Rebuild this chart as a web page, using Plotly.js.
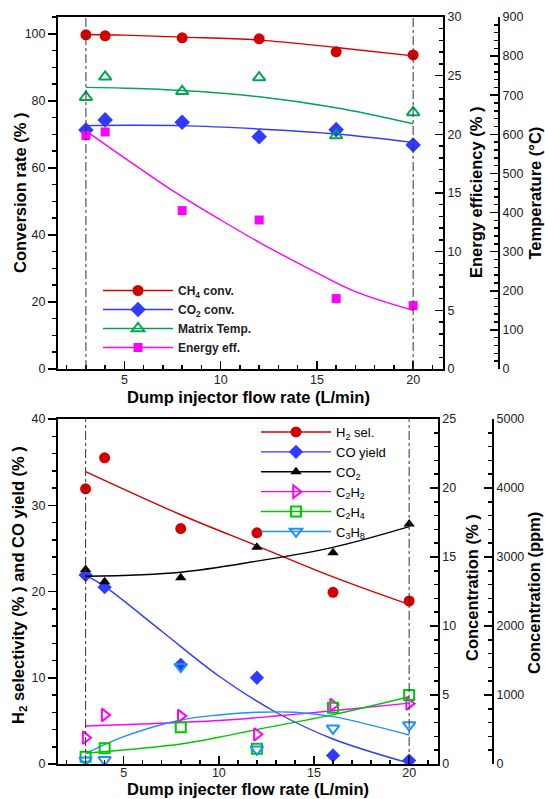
<!DOCTYPE html>
<html>
<head>
<meta charset="utf-8">
<script src="https://cdn.plot.ly/plotly-3.0.1.min.js"></script>
<style>html,body{margin:0;padding:0;background:#fff;}#chart{width:545px;height:799px;}</style>
</head>
<body>
<div id="chart"></div>
<script>
// ---------- DATA ----------
// Top panel
var flowRate = [3, 4, 8, 12, 16, 20];
var ch4Conv = [99.7, 99.4, 98.8, 98.5, 94.6, 93.7];
var co2Conv = [71.3, 74.3, 73.6, 69.3, 71.4, 66.8];
var matrixTemp = [695, 747, 710, 745, 597, 656];
var energyEff = [19.9, 20.2, 13.5, 12.7, 6.0, 5.4];

var fitXTop = [3, 5, 8, 12, 16, 20];
var ch4Fit = [99.8, 99.6, 99.0, 98.1, 95.9, 93.4];
var co2ConvFit = [72.6, 72.7, 72.6, 71.6, 70.1, 67.6];
var tempFit = [720, 718, 712, 696, 668, 627];
var energyFitX = [3, 5, 7.5, 10, 12, 15, 17, 20];
var energyFit = [20.3, 18.0, 15.2, 12.7, 10.8, 8.2, 6.6, 5.0];

// Bottom panel
var h2Sel = [31.9, 35.5, 27.3, 26.8, 19.9, 18.9];
var coYield = [21.9, 20.5, 11.5, 10.0, 1.0, 0.4];
var co2Conc = [14.1, 13.2, 13.5, 15.7, 15.3, 17.4];
var c2h2 = [381, 710, 696, 430, 855, 875];
var c2h4 = [106, 227, 532, 220, 816, 1000];
var c3h8 = [55, 60, 1410, 213, 517, 565];

var h2FitX = [3, 8, 12, 16, 20];
var h2Fit = [33.9, 28.9, 25.3, 21.7, 18.5];
var coFitX = [3, 4, 7, 10, 13, 16, 20];
var coFit = [21.9, 20.6, 15.4, 10.2, 6.0, 2.9, 0.1];
var co2ConcFitX = [3, 8, 12, 16, 20];
var co2ConcFit = [13.6, 13.9, 14.7, 15.7, 17.2];
var c2h2FitX = [3, 6, 10, 13, 16, 20];
var c2h2Fit = [551, 580, 630, 695, 772, 882];
var c2h4FitX = [3, 8, 10, 12, 16, 20];
var c2h4Fit = [155, 290, 387, 500, 715, 975];
var c3h8FitX = [3, 5, 8, 10, 12, 14, 16, 20];
var c3h8Fit = [150, 396, 638, 710, 750, 750, 686, 420];

var refLinesX = [3, 20];

// ---------- STYLE ----------
var FONT = 'Arial, "Liberation Sans", sans-serif';
var RED = '#D40000', BLUE = '#2F3BFF', GREEN = '#00A651', MAG = '#FF00FF';
var GREEN2 = '#00C800', LBLUE = '#1E90FF';

function pxX(p) { return (p - 58) / 477; }
function pxY(p) { return (764 - p) / 747; }

var traces = [];
function pts(x, y, xa, ya, sym, size, color, open) {
  traces.push({x: x, y: y, xaxis: xa, yaxis: ya, mode: 'markers', showlegend: false, hoverinfo: 'skip',
    marker: {symbol: sym, size: size, color: color, line: {width: open ? 2 : 0, color: color}}});
}
function fit(x, y, xa, ya, color) {
  traces.push({x: x, y: y, xaxis: xa, yaxis: ya, mode: 'lines', showlegend: false, hoverinfo: 'skip',
    line: {color: color, width: 1.4, shape: 'spline', smoothing: 1}});
}
function leg(name, xa, ya, sym, size, color, open, legendId) {
  traces.push({x: [null], y: [null], xaxis: xa, yaxis: ya, mode: 'lines+markers', name: name, legend: legendId,
    line: {color: color, width: 1.4},
    marker: {symbol: sym, size: size, color: color, line: {width: open ? 2 : 0, color: color}}});
}

// top
fit(fitXTop, ch4Fit, 'x', 'y', RED);
fit(fitXTop, co2ConvFit, 'x', 'y', BLUE);
pts(flowRate, ch4Conv, 'x', 'y', 'circle', 11, RED, false);
pts(flowRate, co2Conv, 'x', 'y', 'diamond', 12, BLUE, false);
fit(energyFitX, energyFit, 'x', 'y2', MAG);
pts(flowRate, energyEff, 'x', 'y2', 'square', 9, MAG, false);
fit(fitXTop, tempFit, 'x', 'y3', GREEN);
pts(flowRate, matrixTemp, 'x', 'y3', 'triangle-up-open', 11, GREEN, true);
leg('<b>CH<sub>4</sub> conv.</b>', 'x', 'y', 'circle', 11, RED, false, 'legend');
leg('<b>CO<sub>2</sub> conv.</b>', 'x', 'y', 'diamond', 12, BLUE, false, 'legend');
leg('<b>Matrix Temp.</b>', 'x', 'y', 'triangle-up-open', 11, GREEN, true, 'legend');
leg('<b>Energy eff.</b>', 'x', 'y', 'square', 9, MAG, false, 'legend');

// bottom
fit(h2FitX, h2Fit, 'x2', 'y4', RED);
fit(coFitX, coFit, 'x2', 'y4', BLUE);
pts(flowRate, h2Sel, 'x2', 'y4', 'circle', 11, RED, false);
pts(flowRate, coYield, 'x2', 'y4', 'diamond', 11, BLUE, false);
fit(co2ConcFitX, co2ConcFit, 'x2', 'y5', '#000000');
pts(flowRate, co2Conc, 'x2', 'y5', 'triangle-up', 10, '#000000', false);
fit(c2h2FitX, c2h2Fit, 'x2', 'y6', MAG);
fit(c2h4FitX, c2h4Fit, 'x2', 'y6', GREEN2);
fit(c3h8FitX, c3h8Fit, 'x2', 'y6', LBLUE);
pts(flowRate, c2h2, 'x2', 'y6', 'triangle-right-open', 11, MAG, true);
pts(flowRate, c2h4, 'x2', 'y6', 'square-open', 10, GREEN2, true);
pts(flowRate, c3h8, 'x2', 'y6', 'triangle-down-open', 11, LBLUE, true);
leg('H<sub>2</sub> sel.', 'x2', 'y4', 'circle', 11, RED, false, 'legend2');
leg('CO yield', 'x2', 'y4', 'diamond', 11, BLUE, false, 'legend2');
leg('CO<sub>2</sub>', 'x2', 'y4', 'triangle-up', 10, '#000000', false, 'legend2');
leg('C<sub>2</sub>H<sub>2</sub>', 'x2', 'y4', 'triangle-right-open', 11, MAG, true, 'legend2');
leg('C<sub>2</sub>H<sub>4</sub>', 'x2', 'y4', 'square-open', 10, GREEN2, true, 'legend2');
leg('C<sub>3</sub>H<sub>8</sub>', 'x2', 'y4', 'triangle-down-open', 11, LBLUE, true, 'legend2');

function axBase(extra) {
  var a = {showgrid: false, zeroline: false, showline: true, linecolor: '#000', linewidth: 2,
    tickcolor: '#000', tickwidth: 1.5, tickfont: {family: FONT, size: 12.5, color: '#222'}, fixedrange: true};
  for (var k in extra) a[k] = extra[k];
  return a;
}

var shapes = [];
refLinesX.forEach(function (v) {
  shapes.push({type: 'line', xref: 'x', yref: 'y domain', x0: v, x1: v, y0: 0, y1: 1, line: {color: '#333', width: 1, dash: 'dashdot'}});
  shapes.push({type: 'line', xref: 'x2', yref: 'y4 domain', x0: v, x1: v, y0: 0, y1: 1, line: {color: '#333', width: 1, dash: 'dashdot'}});
});

var tfont = {family: FONT, size: 16.5, color: '#000'};
function title(text, x, y, rot) {
  return {text: '<b>' + text + '</b>', xref: 'paper', yref: 'paper', x: pxX(x), y: pxY(y), showarrow: false,
    xanchor: 'center', yanchor: 'middle', textangle: rot ? -90 : 0, font: tfont};
}

var layout = {
  width: 545, height: 799,
  margin: {l: 58, r: 10, t: 17, b: 35},
  paper_bgcolor: '#fff', plot_bgcolor: 'rgba(0,0,0,0)',
  font: {family: FONT},
  showlegend: true,
  xaxis: axBase({domain: [0, 385 / 477], anchor: 'y', range: [1.55, 21.55], tick0: 0, dtick: 5, ticks: 'inside', ticklen: 8, mirror: true,
    ticklabelstandoff: -2, minor: {dtick: 1, ticks: 'inside', ticklen: 4, tickcolor: '#000'}}),
  yaxis: axBase({domain: [pxY(369), 1], anchor: 'x', range: [0, 105], tick0: 0, dtick: 20, ticks: 'outside', ticklen: 8,
    minor: {dtick: 5, ticks: 'outside', ticklen: 4, tickcolor: '#000'}}),
  yaxis2: axBase({overlaying: 'y', anchor: 'x', side: 'right', range: [0, 30], tick0: 0, dtick: 5, ticks: 'inside', ticklen: 8,
    minor: {dtick: 1, ticks: 'inside', ticklen: 4, tickcolor: '#000'}}),
  yaxis3: axBase({overlaying: 'y', anchor: 'free', position: pxX(499), side: 'right', range: [0, 900], tick0: 0, dtick: 100, ticks: 'inside', ticklen: 8,
    minor: {dtick: 20, ticks: 'inside', ticklen: 4, tickcolor: '#000'}}),
  xaxis2: axBase({domain: [0, 379.7 / 477], anchor: 'y4', range: [1.55, 21.5], tick0: 0, dtick: 5, ticks: 'inside', ticklen: 8, mirror: true,
    ticklabelstandoff: -4, minor: {dtick: 1, ticks: 'inside', ticklen: 4, tickcolor: '#000'}}),
  yaxis4: axBase({domain: [0, pxY(419)], anchor: 'x2', range: [0, 40], tick0: 0, dtick: 10, ticks: 'outside', ticklen: 8,
    minor: {dtick: 2, ticks: 'outside', ticklen: 4, tickcolor: '#000'}}),
  yaxis5: axBase({overlaying: 'y4', anchor: 'x2', side: 'right', range: [0, 25], tick0: 0, dtick: 5, ticks: 'inside', ticklen: 8,
    minor: {dtick: 1, ticks: 'inside', ticklen: 4, tickcolor: '#000'}}),
  yaxis6: axBase({overlaying: 'y4', anchor: 'free', position: pxX(493), side: 'right', range: [0, 5000], tick0: 0, dtick: 1000, ticks: 'inside', ticklen: 8,
    minor: {dtick: 200, ticks: 'inside', ticklen: 4, tickcolor: '#000'}}),
  legend: {x: pxX(98), y: pxY(276), xanchor: 'left', yanchor: 'top', xref: 'paper', yref: 'paper',
    bgcolor: 'rgba(0,0,0,0)', borderwidth: 0, font: {family: FONT, size: 12, color: '#222'}, itemwidth: 70, tracegroupgap: 0},
  legend2: {x: pxX(256), y: pxY(417), xanchor: 'left', yanchor: 'top', xref: 'paper', yref: 'paper',
    bgcolor: 'rgba(0,0,0,0)', borderwidth: 0, font: {family: FONT, size: 13, color: '#000'}, itemwidth: 70, tracegroupgap: 0},
  shapes: shapes,
  annotations: [
    title('Dump injector flow rate (L/min)', 248, 397, false),
    title('Dump injecter flow rate (L/min)', 248, 789.3, false),
    title('Conversion rate (% )', 20, 193, true),
    title('Energy efficiency (% )', 476, 193, true),
    title('Temperature (°C)', 534.5, 193, true),
    title('H<sub>2</sub> selectivity (% ) and CO yield (% )', 19, 585, true),
    title('Concentration (% )', 472, 588, true),
    title('Concentration (ppm)', 534, 593, true)
  ]
};

Plotly.newPlot('chart', traces, layout, {displayModeBar: false, staticPlot: true});
</script>
</body>
</html>
